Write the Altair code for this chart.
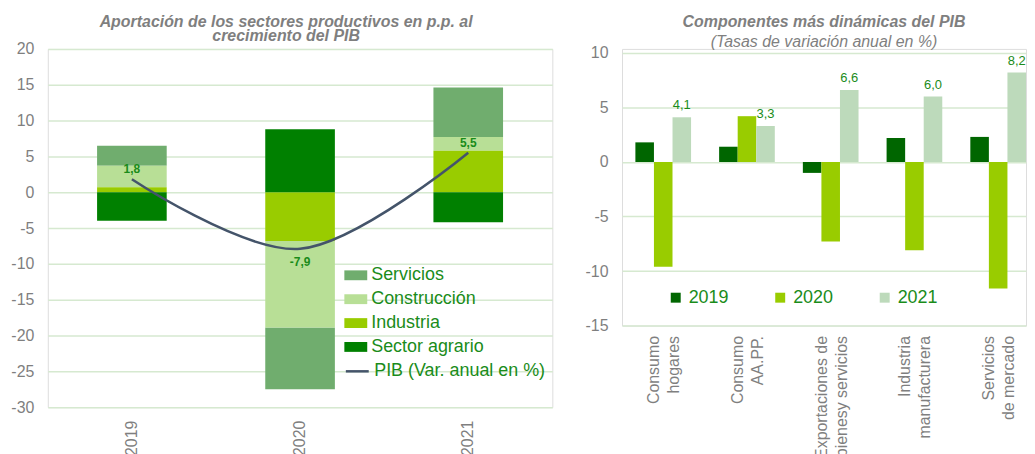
import altair as alt
import pandas as pd

# ---------------- data (left) ----------------
years = ["2019", "2020", "2021"]
sectors = ["Servicios", "Construcción", "Industria", "Sector agrario"]
stack_rank = [3, 2, 1, 0]
servicios = [2.8, -8.6, 6.9]
construccion = [3.0, -12.1, 1.9]
industria = [0.7, -6.8, 5.8]
agrario = [-4.0, 8.8, -4.2]
pib = [1.8, -7.9, 5.5]
pib_name = "PIB (Var. anual en %)"

# ---------------- data (right) ----------------
components = ["Consumo\nhogares", "Consumo\nAA.PP.", "Exportaciones de\nbienesy servicios",
              "Industria\nmanufacturera", "Servicios\nde mercado"]
v2019 = [1.8, 1.4, -1.0, 2.2, 2.3]
v2020 = [-9.6, 4.2, -7.3, -8.1, -11.6]
v2021 = [4.1, 3.3, 6.6, 6.0, 8.2]

FONT = "Liberation Sans"
GRAY = "#7F7F7F"
GRID = "#D6E9D0"
GREEN_TXT = "#1A8C1A"

rows = []
for s, r, vals in zip(sectors, stack_rank, [servicios, construccion, industria, agrario]):
    for y, v in zip(years, vals):
        rows.append({"year": y, "sector": s, "value": v, "rank": r})
left_df = pd.DataFrame(rows)
line_df = pd.DataFrame({"year": years, "value": pib, "serie": [pib_name] * 3})

xl_axis = alt.Axis(title=None, labelAngle=-90, labelAlign="right", labelBaseline="middle",
                   labelPadding=13, ticks=False, domain=False, labelFontSize=16,
                   labelColor=GRAY, labelFont=FONT)
xl = alt.X("year:N", sort=years, scale=alt.Scale(paddingInner=0.586, paddingOuter=0.293), axis=xl_axis)
yl_axis = alt.Axis(title=None, values=list(range(-30, 25, 5)), grid=True, gridColor=GRID,
                   gridWidth=1.5, domain=False, ticks=False, labelPadding=14, labelFontSize=16,
                   labelColor=GRAY, labelFont=FONT, labelExpr="datum.value + ''")
yl_scale = alt.Scale(domain=[-30, 20], nice=False)

bars_l = alt.Chart(left_df).mark_bar().encode(
    x=xl,
    y=alt.Y("value:Q", stack="zero", scale=yl_scale, axis=yl_axis),
    color=alt.Color("sector:N",
                    scale=alt.Scale(domain=sectors, range=["#70AD6E", "#B8DF96", "#99CC00", "#008000"]),
                    legend=alt.Legend(title=None, orient="none", legendX=298, legendY=216,
                                      symbolType="M-1,-0.43H1V0.43H-1Z", symbolSize=529,
                                      symbolStrokeWidth=0, symbolOpacity=1,
                                      labelFontSize=18, labelColor=GREEN_TXT, labelFont=FONT,
                                      labelOffset=4, rowPadding=3, labelLimit=300)),
    order=alt.Order("rank:Q"),
)

line_l = alt.Chart(line_df).mark_line(strokeWidth=2.5, interpolate="cardinal").encode(
    x=xl,
    y=alt.Y("value:Q", scale=yl_scale, axis=yl_axis),
    stroke=alt.Stroke("serie:N", scale=alt.Scale(range=["#44546A"]),
                      legend=alt.Legend(title=None, orient="none", legendX=298, legendY=311,
                                        symbolType="stroke", symbolSize=529, symbolStrokeWidth=2.5,
                                        labelFontSize=18, labelColor=GREEN_TXT, labelFont=FONT,
                                        labelOffset=4, labelLimit=300)),
)

lbl_calc = "replace(replace(format(datum.value, '.1f'), '.', ','), '\u2212', '-')"
lbl_up = alt.Chart(line_df).transform_filter("datum.value >= 0").transform_calculate(lbl=lbl_calc).mark_text(
    baseline="bottom", dy=-3, fontSize=12, fontWeight="bold", color=GREEN_TXT, font=FONT).encode(
    x=xl, y=alt.Y("value:Q", scale=yl_scale, axis=yl_axis), text="lbl:N")
lbl_dn = alt.Chart(line_df).transform_filter("datum.value < 0").transform_calculate(lbl=lbl_calc).mark_text(
    baseline="top", dy=8, fontSize=12, fontWeight="bold", color=GREEN_TXT, font=FONT).encode(
    x=xl, y=alt.Y("value:Q", scale=yl_scale, axis=yl_axis), text="lbl:N")

left = alt.layer(bars_l, line_l, lbl_up, lbl_dn).resolve_legend(
    color="independent", stroke="independent").properties(
    width=507, height=360,
    title=alt.TitleParams(["Aportación de los sectores productivos en p.p. al", "crecimiento del PIB"],
                          fontSize=16, fontStyle="italic", fontWeight="bold", color=GRAY, font=FONT,
                          lineHeight=14, dx=-14, offset=-3, anchor="middle"),
)

# ---------------- right chart ----------------
rrows = []
for y, vals in zip(years, [v2019, v2020, v2021]):
    for c, v in zip(components, vals):
        rrows.append({"comp": c, "year": y, "value": v})
right_df = pd.DataFrame(rrows)

yr_scale = alt.Scale(domain=[-15, 10.37], nice=False)
xr_axis = alt.Axis(title=None, labelAngle=-90, labelAlign="right", labelBaseline="middle",
                   labelPadding=10, labelOffset=-9, ticks=False, domain=False, labelFontSize=16,
                   labelColor=GRAY, labelFont=FONT, labelLineHeight=20,
                   labelExpr="split(datum.label, '\\n')")
xr = alt.X("comp:N", sort=components,
           scale=alt.Scale(paddingInner=0.335, paddingOuter=0.08, align=1), axis=xr_axis)
yr_axis = alt.Axis(title=None, values=list(range(-15, 15, 5)), grid=True, gridColor=GRID,
                   gridWidth=1.5, domain=False, ticks=False, labelPadding=14, labelFontSize=16,
                   labelColor=GRAY, labelFont=FONT, labelExpr="datum.value + ''")

bars_r = alt.Chart(right_df).mark_bar().encode(
    x=xr,
    xOffset=alt.XOffset("year:N", sort=years),
    y=alt.Y("value:Q", scale=yr_scale, axis=yr_axis),
    color=alt.Color("year:N", scale=alt.Scale(domain=years, range=["#006600", "#99CC00", "#BDDABB"]),
                    legend=alt.Legend(title=None, orient="none", direction="horizontal",
                                      legendX=45, legendY=241, symbolType="square", symbolSize=100,
                                      symbolStrokeWidth=0, symbolOpacity=1, labelFontSize=18,
                                      labelColor=GREEN_TXT, labelFont=FONT, labelOffset=4,
                                      columnPadding=42)),
)

txt_r = alt.Chart(right_df).transform_filter("datum.year == '2021'").transform_calculate(
    lbl="replace(format(datum.value, '.1f'), '.', ',')"
).mark_text(baseline="bottom", dy=-5, fontSize=13, color=GREEN_TXT, font=FONT).encode(
    x=xr,
    xOffset=alt.XOffset("year:N", sort=years),
    y=alt.Y("value:Q", scale=yr_scale, axis=yr_axis),
    text="lbl:N",
)

right = alt.layer(bars_r, txt_r).properties(
    width=406, height=278,
    title=alt.TitleParams("Componentes más dinámicas del PIB", subtitle="(Tasas de variación anual en %)",
                          fontSize=16, fontStyle="italic", fontWeight="bold", color=GRAY, font=FONT,
                          subtitleFontSize=16, subtitleFontStyle="italic", subtitleColor=GRAY,
                          subtitleFont=FONT, subtitlePadding=4, offset=-5, anchor="middle"),
)

chart = alt.hconcat(left, right, spacing=31).resolve_scale(
    color="independent", stroke="independent"
).resolve_legend(color="independent", stroke="independent").properties(
    padding={"left": 2, "top": 4, "right": 0, "bottom": 0}
).configure_view(stroke=None).configure(font=FONT)

chart.save("out.html", embed_options={"renderer": "svg", "actions": False})
